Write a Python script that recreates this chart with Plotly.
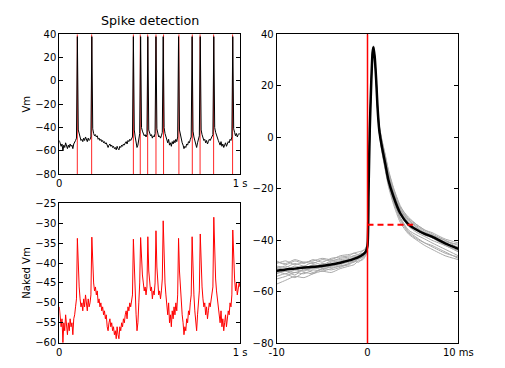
import plotly.graph_objects as go

# ---------------- data ----------------
dt_s = 0.005
naked_vm = [
    -51, -53, -56, -54, -60, -55, -57, -53, -56, -58,
    -55, -57, -54, -56, -55, -58, -54, -53, -51, -49,
    -33.8,
    -42, -46, -49, -51, -50, -52, -49, -51, -48, -50, -52, -49, -51, -50, -48,
    -33.5,
    -41, -45, -47, -46, -48, -47, -50, -49, -51, -50, -52, -51, -53,
    -52, -54, -53, -56, -57, -55, -54, -56, -55, -57,
    -56, -58, -57, -59, -56, -58, -59, -56, -57, -55,
    -56, -54, -55, -53, -52, -54, -51, -52, -50, -51, -49, -48,
    -34.0,
    -42, -48, -53, -57, -55, -50, -45,
    -33.6,
    -40, -43, -45, -47, -46, -48, -46,
    -33.4,
    -42, -45, -47, -46, -49, -47, -48, -45,
    -31.9,
    -41, -45, -48, -47, -49, -47, -44,
    -29.4,
    -40, -45, -48, -51, -53, -50, -55, -53, -56, -52, -54, -51, -53, -50, -52, -48,
    -33.8,
    -42, -47, -50, -53, -55, -58, -56, -57, -54, -55, -52, -53, -50, -48,
    -33.4,
    -43, -48, -52, -55, -57, -53, -50, -47,
    -32.7,
    -42, -46, -49, -51, -50, -53, -51, -54, -52, -50, -51, -49, -48, -46,
    -28.5,
    -40, -44, -47, -49, -51, -53, -55, -52, -56, -54, -57, -55, -53, -56, -54, -52, -53, -50, -51, -48,
    -31.7,
    -41, -44, -47, -45, -48, -46, -45, -46,
]
time_s = [i * dt_s for i in range(len(naked_vm))]

spike_times_s = [0.0996, 0.179, 0.410, 0.448, 0.489, 0.535, 0.577, 0.662, 0.736, 0.779, 0.854, 0.959]
spike_peak_vm = [38, 38, 38, 38, 38, 38, 38, 38, 38, 38, 38, 38]

# full Vm = naked Vm with the spike peaks restored
vm = list(naked_vm)
for ts, pk in zip(spike_times_s, spike_peak_vm):
    vm[round(ts / dt_s)] = pk

# spike waveforms (ms relative to spike onset)
t_wave_ms = [-10, -9, -8, -7, -6, -5, -4, -3, -2, -1.5, -1, -0.5, -0.2, 0, 0.12, 0.25, 0.42, 0.56,
             0.66, 0.8, 0.96, 1.1, 1.29, 1.58, 1.94, 2.3, 2.86, 3.6, 4.5, 5.45, 6.3, 7.1, 8.55, 10]
mean_wave = [-51.8, -51.3, -51, -50.6, -50.3, -50, -49.4, -48.7, -47.8, -47.2, -46.5, -45.5, -44.5, -42,
             -20, 3, 22, 33, 35, 31, 22, 12, 3, -3.6, -10, -16.6, -23, -29.5, -33.8, -36, -37.5, -38.6, -41.2, -43.3]
waves = [
    [-48, -49.5, -48, -49, -47.5, -48.5, -47, -46.5, -46, -45, -45.5, -44, -43.5, -41, -19, 4, 23, 33, 35, 31, 23, 13, 5, -1, -7, -13, -20, -27, -31, -34, -36, -37.5, -40, -42],
    [-53, -52, -53.5, -51, -52.5, -51, -50.5, -50, -49, -48.5, -47, -46.5, -45, -42.5, -21, 2, 21, 32, 34.5, 30, 21, 11, 2, -5, -12, -18, -25, -31, -36, -38, -39.5, -41, -43.5, -46],
    [-55, -54, -52.5, -53, -51.5, -52, -51, -50, -49.5, -48, -48.5, -47, -45.5, -43, -22, 1, 21, 32, 34.5, 30.5, 21.5, 11.5, 2.5, -4, -11, -17.5, -24, -31.5, -36.5, -39, -41, -42, -44.5, -47],
    [-50, -50.5, -49, -50, -48.5, -49.5, -48, -47.5, -47, -46, -46.5, -45, -44, -41.5, -19.5, 3.5, 22.5, 33.5, 35.5, 31.5, 23, 13, 4, -2, -8, -14, -21, -28, -32, -34.5, -36.5, -38, -40.5, -41.5],
    [-57, -55.5, -54, -54.5, -53, -52, -52.5, -51, -50, -49.5, -48, -47.5, -46, -43.5, -22, 1.5, 21, 32.5, 34.5, 30, 21, 11, 2, -5.5, -12.5, -19, -26, -33, -37.5, -40, -42, -43.5, -46, -47.5],
    [-49, -48, -49.5, -48.5, -49, -47.5, -48, -47, -46.5, -46, -45.5, -45, -44, -41.5, -19, 3.5, 22.5, 33, 35, 31, 22.5, 12.5, 3.5, -2.5, -9, -15.5, -22, -28.5, -33, -35.5, -37, -38, -40, -43],
    [-52, -53, -51.5, -52, -50.5, -51.5, -50, -49.5, -48, -48.5, -47, -46, -45, -42.5, -20.5, 2.5, 21.5, 32.5, 35, 30.5, 22, 12, 3, -3.5, -10.5, -17, -23.5, -30, -34.5, -37, -38.5, -40, -42, -44.5],
    [-50.5, -51.5, -50, -51, -49.5, -50, -48.5, -48, -47.5, -47, -46, -45.5, -44.5, -42, -20, 3, 22, 33, 35, 31, 22.5, 12.5, 4, -1.5, -7.5, -14, -21, -27.5, -32, -35, -37, -38.5, -41, -43],
    [-54, -53, -54.5, -52.5, -53, -51, -51.5, -50.5, -49, -48, -47.5, -46.5, -45.5, -43, -21, 2, 21.5, 32.5, 34.5, 30.5, 21.5, 11.5, 2.5, -4.5, -11.5, -18, -25, -32, -37, -39.5, -41, -42.5, -45, -46.5],
    [-48.5, -49, -47.5, -48.5, -48, -47, -47.5, -46, -45.5, -45, -44.5, -44, -43, -40.5, -18.5, 4, 23, 33.5, 35.5, 31.5, 23, 13.5, 4.5, -1, -6.5, -12.5, -19.5, -26.5, -31.5, -34, -36, -37, -39.5, -41],
    [-52.5, -52, -52.5, -51.5, -51, -50.5, -50, -49, -48.5, -47.5, -47, -46, -44.5, -42, -20.5, 2.5, 22, 33, 35, 30.5, 22, 12, 3, -3, -10, -16, -23, -29, -33.5, -36, -38, -39, -42, -44],
    [-51, -50, -51.5, -50.5, -51, -49, -49.5, -48.5, -47.5, -46.5, -46, -45, -44, -41.5, -19.5, 3, 22, 33, 35, 31, 22.5, 12.5, 3.5, -2, -9, -15, -22, -28, -32.5, -35, -37.5, -39, -41.5, -42.5],
]
threshold_vm = -34
threshold_span_ms = [0, 5]
onset_ms = 0

# ---------------- figure ----------------
fig = go.Figure()

# top-left: red spike markers, then Vm
sx, sy = [], []
for ts in spike_times_s:
    sx += [ts, ts, None]
    sy += [-80, 40, None]
fig.add_trace(go.Scatter(x=sx, y=sy, mode="lines", line=dict(color="rgb(255,0,0)", width=1),
                         opacity=0.85, xaxis="x", yaxis="y", hoverinfo="skip"))
fig.add_trace(go.Scatter(x=time_s, y=vm, mode="lines", line=dict(color="black", width=1),
                         xaxis="x", yaxis="y"))

# bottom-left: naked Vm
fig.add_trace(go.Scatter(x=time_s, y=naked_vm, mode="lines", line=dict(color="rgb(255,0,0)", width=1),
                         xaxis="x2", yaxis="y2"))

# right: waveforms
for w in waves:
    fig.add_trace(go.Scatter(x=t_wave_ms, y=w, mode="lines",
                             line=dict(color="#a8a8a8", width=1, shape="spline", smoothing=0.6),
                             xaxis="x3", yaxis="y3"))
fig.add_trace(go.Scatter(x=t_wave_ms, y=mean_wave, mode="lines",
                         line=dict(color="black", width=2.5, shape="spline", smoothing=0.6),
                         xaxis="x3", yaxis="y3"))
fig.add_trace(go.Scatter(x=threshold_span_ms, y=[threshold_vm, threshold_vm], mode="lines",
                         line=dict(color="rgb(255,0,0)", width=2, dash="6px,4px"), xaxis="x3", yaxis="y3"))

W, H = 505, 368
def fx(a, b):
    return [a / W, b / W]
def fy(top, bot):
    return [1 - bot / H, 1 - top / H]

axcommon = dict(showline=True, linecolor="black", linewidth=1, mirror="ticks", ticks="inside",
                ticklen=4, tickcolor="black", showgrid=False, zeroline=False, automargin=False,
                tickfont=dict(family="DejaVu Sans", size=10, color="black"))
tfont = dict(family="DejaVu Sans", size=10, color="black")

fig.update_layout(
    width=W, height=H, margin=dict(l=0, r=0, t=0, b=0),
    paper_bgcolor="white", plot_bgcolor="white", showlegend=False,
    xaxis=dict(domain=fx(59.3, 240), anchor="y", range=[0, 1], tickvals=[0, 1], ticktext=["0", "1 s"], **axcommon),
    yaxis=dict(domain=fy(34.3, 174.3), anchor="x", range=[-80, 40], dtick=20,
               title=dict(text="Vm", font=tfont, standoff=2), **axcommon),
    xaxis2=dict(domain=fx(59.3, 240), anchor="y2", range=[0, 1], tickvals=[0, 1], ticktext=["0", "1 s"], **axcommon),
    yaxis2=dict(domain=fy(203.3, 342.7), anchor="x2", range=[-60, -25], dtick=5,
                title=dict(text="Naked Vm", font=tfont, standoff=2), **axcommon),
    xaxis3=dict(domain=fx(276.7, 458.3), anchor="y3", range=[-10, 10], tickvals=[-10, 0, 10],
                ticktext=["-10", "0", "10 ms"], **axcommon),
    yaxis3=dict(domain=fy(34.3, 343.3), anchor="x3", range=[-80, 40], dtick=20, **axcommon),
    shapes=[dict(type="line", xref="x3", yref="y3 domain", x0=onset_ms, x1=onset_ms, y0=0, y1=1,
                 line=dict(color="rgb(255,0,0)", width=1.5), layer="above")],
    annotations=[dict(text="Spike detection", x=(59.3 + 240) / 2 / W, y=1 - 26.5 / H, xref="paper", yref="paper",
                      xanchor="center", yanchor="bottom", showarrow=False, yshift=-3,
                      font=dict(family="DejaVu Sans", size=12.7, color="black"))],
)

fig.write_html("out.html")
